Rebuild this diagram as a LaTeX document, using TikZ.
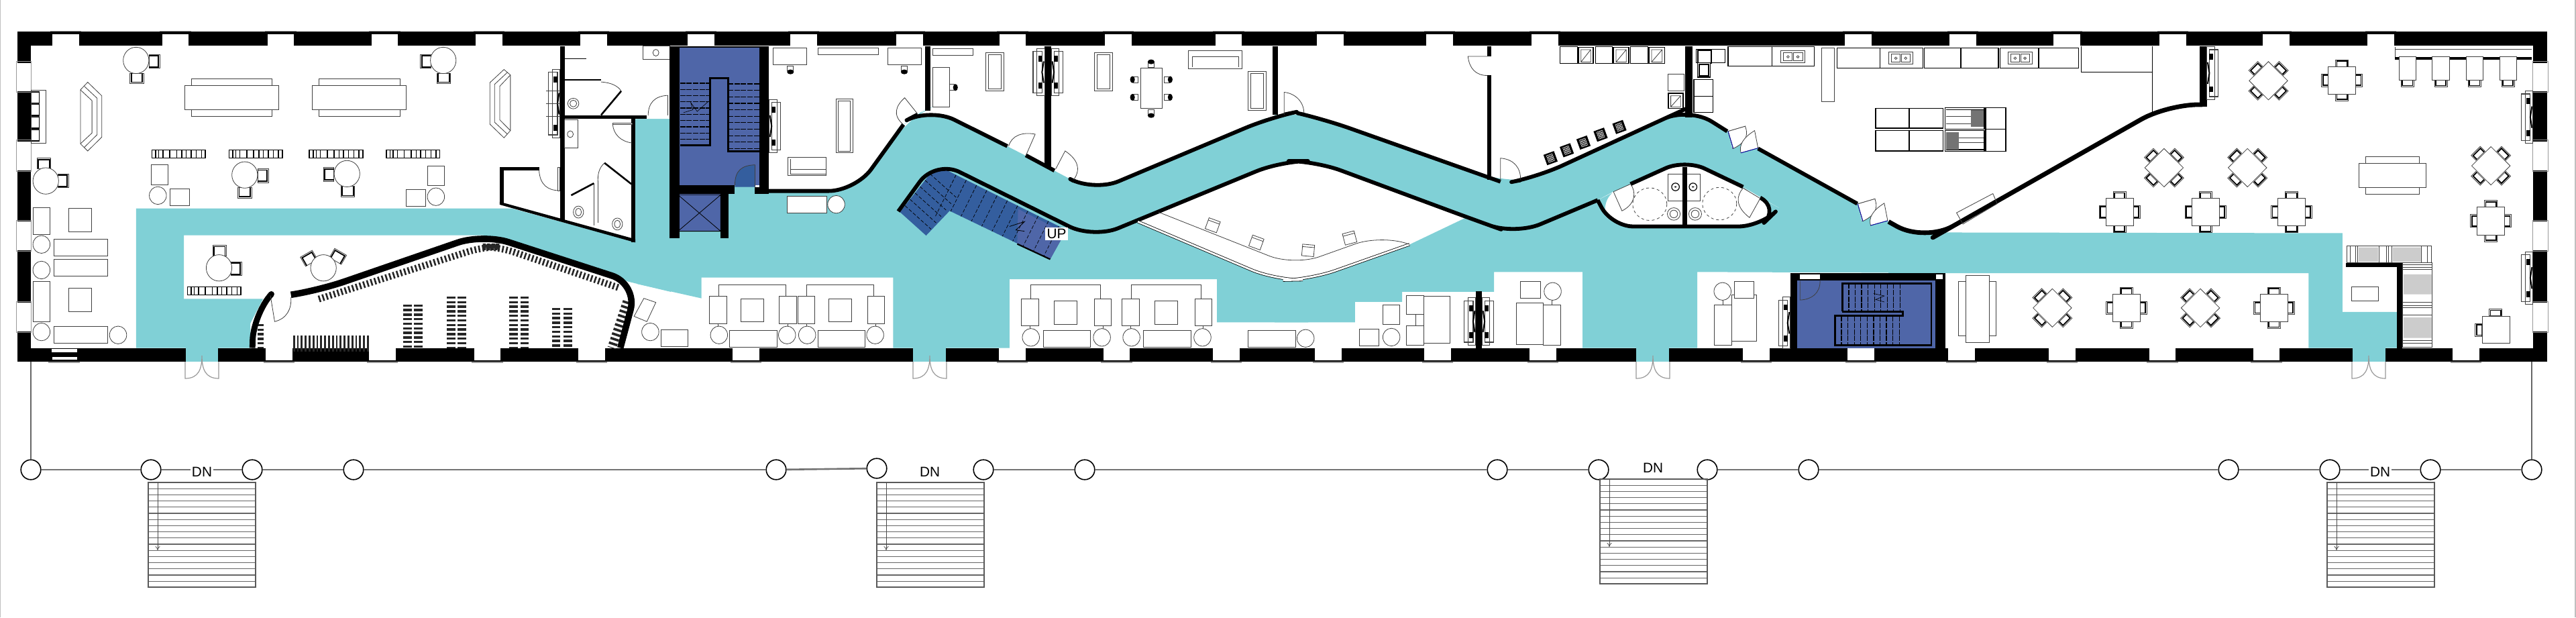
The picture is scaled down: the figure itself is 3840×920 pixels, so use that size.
\documentclass[tikz,border=0pt]{standalone}
\usepackage{fontspec}
\setmainfont{Liberation Sans}
\usetikzlibrary{arrows.meta}
\definecolor{tealf}{HTML}{80D0D6}
\definecolor{bluea}{HTML}{4F66A8}
\definecolor{blueb}{HTML}{345E9E}
\definecolor{sillg}{HTML}{999999}
\definecolor{seatg}{HTML}{CCCCCC}
\def\R{10pt}
\tikzset{
 z1/.style={x=0.159439pt,y=-0.089286pt},
 z2/.style={shift={(237.5pt,0pt)},x=0.159439pt,y=-0.089286pt},
 z3/.style={shift={(475pt,0pt)},x=0.159439pt,y=-0.089286pt},
 z4/.style={shift={(710pt,0pt)},x=0.159439pt,y=-0.089286pt},
 fur/.style={draw=black!75,line width=.2pt,fill=white},
 thinl/.style={draw=black!75,line width=.2pt},
 chk/.style={draw=black,line width=.45pt},
 wl/.style={draw=black,line width=1.45pt,line join=round},
 wlb/.style={draw=black,line width=2.4pt,line join=round},
 leaf/.style={draw=black,line width=.5pt},
 tread/.style={draw=black,line width=.3pt,dash pattern=on 2pt off .4pt},
 porch/.style={draw=black!55,line width=.65pt},
 col/.style={circle,draw=black,line width=.4pt,fill=white,minimum size=7.4pt,inner sep=0pt},
 lab/.style={font=\fontsize{5.2pt}{6pt}\selectfont,text=black,inner sep=.6pt,fill=white},
}
% chair: x y rot halfwidth halfdepth
\newcommand\chr[5]{\begin{scope}[shift={(#1,#2)},rotate=#3]
 \draw[fur] (-#4,-#5) rectangle (#4,#5);
 \draw[chk] (-#4+3,#5) -- (-#4+3,-#5+6) -- (#4-3,-#5+6) -- (#4-3,#5);
\end{scope}}
\newcommand\cha[3]{\chr{#1}{#2}{#3}{15}{14}}
\newcommand\chb[3]{\chr{#1}{#2}{#3}{16}{22}}
\newcommand\rtb[2]{\draw[fur] (#1,#2) ellipse [x radius=30,y radius=55];}
\newcommand\elp[2]{\draw[fur] (#1,#2) ellipse [x radius=20,y radius=37];}
\newcommand\rc[4]{\draw[fur] (#1,#2) rectangle (#3,#4);}
\newcommand\dtb[2]{\cha{#1-30}{#2-52}{45}\cha{#1+30}{#2-52}{-45}\cha{#1-30}{#2+52}{135}\cha{#1+30}{#2+52}{-135}
 \draw[fur] (#1-45,#2)--(#1,#2-80)--(#1+45,#2)--(#1,#2+80)--cycle;}
\newcommand\qtb[2]{\cha{#1}{#2-72}{0}\cha{#1}{#2+72}{180}\cha{#1-40}{#2}{90}\cha{#1+40}{#2}{-90}
 \draw[fur] (#1-32,#2-58) rectangle (#1+32,#2+58);}
\newcommand\rack[2]{\draw[fill=white,draw=black,line width=.35pt] (#1,#2) rectangle (#1+125,#2+34);
 \foreach \k in {9,16,26,42,58,70,80,92,104,116}{\draw[black,line width=.35pt] (#1+\k,#2) -- (#1+\k,#2+34);}}
\newcommand\tvu[4]{\begin{scope}[shift={(#1,0)},xscale=#4]
 \draw[fur] (0,#2) rectangle (18,#3);
 \draw[thinl,line width=.3pt] (6,#2+12) rectangle (27,#3-12);
 \fill[black] (6,#2+30) rectangle (15,#2+55);
 \fill[black] (6,#3-55) rectangle (15,#3-30);
 \draw[black,line width=.5pt] (2,{(#2+#3)/2-45}) -- (6,{(#2+#3)/2}) -- (2,{(#2+#3)/2+45});
\end{scope}}
\newcommand\lng[3]{% x, rect top, right shift
 \draw[thinl] (#1+21,#2) -- (#1+21,1188) -- (#1+178+#3,1188) -- (#1+178+#3,#2);
 \draw[thinl] (#1+20,#2+113) -- (#1+20,1380) (#1+183+#3,#2+113) -- (#1+183+#3,1380);
 \rc{#1}{#2}{#1+40}{#2+113}\rc{#1+163+#3}{#2}{#1+203+#3}{#2+113}
 \rc{#1+73+#3/2}{#2+10}{#1+126+#3/2}{#2+106}
 \elp{#1+22}{#2+161}\elp{#1+181+#3}{#2+161}
 \rc{#1+47+#3/2}{1380}{#1+157+#3/2}{1450}}
\newcommand\ofc[3]{\begin{scope}[shift={(#1,#2)},rotate=#3]
 \draw[fur] (-7,-14) rectangle (7,6);
 \fill[black] (0,10) ellipse [x radius=8,y radius=10];
\end{scope}}
\newcommand\snk[2]{\draw[fur,line width=.3pt] (#1,#2) rectangle (#1+57,#2+50);
 \draw[thinl] (#1+6,#2+8) rectangle (#1+27,#2+42) (#1+30,#2+8) rectangle (#1+51,#2+42);
 \draw[thinl] (#1+17,#2+25) ellipse [x radius=3,y radius=5] (#1+40,#2+25) ellipse [x radius=3,y radius=5];}
\newcommand\cel[4]{\draw[fur,draw=black,line width=.3pt] (#1,#2) rectangle (#3,#4);}
\newcommand\apl[4]{\draw[fill=white,draw=black,line width=.4pt] (#1,#2) rectangle (#3,#4);
 \draw[thinl] (#1+6,#2+10) rectangle (#3-6,#4-6) (#1+6,#4-6) -- (#3-6,#2+10);}
\newcommand\bsq[2]{\begin{scope}[shift={(#1,#2)},rotate=20]
 \fill[black] (-13,-23) rectangle (13,23);
 \draw[white,line width=.12pt] (-7,-15) rectangle (7,15) (0,-15) -- (0,15) (-7,0) -- (7,0) (-3.5,-15) -- (-3.5,15) (3.5,-15) -- (3.5,15) (-7,-7) -- (7,-7) (-7,7) -- (7,7);
\end{scope}}
\newcommand\dbd[2]{\draw[fur] (#1,#2+3) -- (#1+40,#2-18) -- (#1+10,#2+75)  (#1,#2+3) -- (#1+12,#2+75);
 \draw[thinl,fill=white] (#1,#2+3) -- (#1+40,#2-18) .. controls (#1+50,#2+30) and (#1+35,#2+55) .. (#1+12,#2+75) -- cycle;
 \draw[thinl,fill=white] (#1+70,#2+73) -- (#1+62,#2) .. controls (#1+35,#2+30) and (#1+25,#2+60) .. (#1+30,#2+93) -- cycle;
 \draw[blue!70!black,line width=.2pt] (#1,#2+3) -- (#1+12,#2+75) (#1+30,#2+93) -- (#1+70,#2+73);}
\newcommand\pst[2]{
 \foreach \k in {1,...,16}{\draw[black!60,line width=.3pt] (#1,#2+\k*9.2) -- (#1+160,#2+\k*9.2);}
 \draw[black!65,line width=.4pt] (#1,#2) rectangle (#1+160,#2+156);
 \draw[black!70,line width=.2pt,-{To[length=1.5pt,width=1.8pt]}] (#1+14,#2) -- (#1+14,#2+101);}
\newcommand\pdr[1]{\draw[sillg,line width=.3pt] (#1-25,539) -- (#1-25,564) .. controls (#1-5,564) and (#1,550) .. (#1,530) .. controls (#1,550) and (#1+5,564) .. (#1+25,564) -- (#1+25,539);}
\begin{document}
\begin{tikzpicture}[x=.25pt,y=-.25pt]
\useasboundingbox (0,0) rectangle (3840,920);
\fill[white] (0,0) rectangle (3840,920);
\draw[black!25,line width=.3pt] (0.5,0) -- (0.5,920) (3839,0) -- (3839,920);

%%% TEAL FLOOR
\begin{scope}[z1]
\fill[tealf] (318,870) -- (1197,870) -- (1485,1010) -- (1485,497) -- (1568,497) -- (1568,1218) -- (1468,1175) -- (1150,990) -- (1130,982) -- (430,982) -- (430,1247) -- (615,1247) -- (585,1350) -- (585,1452) -- (510,1452) -- (510,1507) -- (434,1507) -- (434,1452) -- (318,1452) -- cycle;
\end{scope}
\begin{scope}[z2]
\fill[tealf] (0,497) -- (85,497) -- (85,965) -- (213,965) -- (213,775) -- (275,775) -- (275,797) [rounded corners=\R] -- (510,797) -- (622,520) -- (655,478) -- (685,450) -- (865,610) -- (975,712) -- (1067,800) -- (1480,490) -- (1512,478) [sharp corners] -- (1568,480) -- (1568,1345) -- (1355,1345) -- (1355,1165) -- (870,1165) -- (870,1452) -- (722,1452) -- (722,1507) -- (645,1507) -- (645,1452) -- (598,1452) -- (598,1158) -- (150,1158) -- (150,1245) -- (0,1185) -- cycle;
\end{scope}
\begin{scope}[z3]
\fill[tealf] (0,480) -- (68,478) [rounded corners=\R] -- (115,497) -- (528,758) -- (575,752) -- (615,738) -- (905,500) -- (969,448) -- (1058,548) [sharp corners] -- (1435,925) -- (1435,1138) -- (988,1135) -- (988,1452) -- (921,1452) -- (921,1507) -- (845,1507) -- (845,1452) -- (720,1452) -- (720,1135) -- (513,1135) -- (513,1218) -- (298,1218) -- (298,1260) -- (188,1260) -- (188,1345) -- (0,1345) -- cycle;
\end{scope}
\begin{scope}[z4]
\fill[tealf] (-39,925) .. controls (0,965) and (20,970) .. (46,970) -- (1022,973) -- (1022,1302) -- (1150,1302) -- (1150,1452) -- (1122,1452) -- (1122,1507) -- (1046,1507) -- (1046,1452) -- (943,1452) -- (943,1140) -- (-39,1140) -- cycle;
\end{scope}
% white reception and WC island
\begin{scope}[z2]
\fill[white] (1170,918) [rounded corners=\R] -- (1505,672) -- (1585,672) [sharp corners] -- (1940,905) -- (1805,1020) [rounded corners=\R] -- (1572,1167) -- (1493,1170) [sharp corners] -- (1170,925) -- (1170,918);
\end{scope}
\begin{scope}[z3]
\fill[white] [rounded corners=8pt] (755,835) -- (788,945) -- (1135,945) -- (1180,868) -- (1135,825) -- (1095,780) -- (960,665) -- (832,768) -- (790,802) -- cycle;
\end{scope}

%%% BLUE
\begin{scope}[z2]
\fill[bluea] (98,195) rectangle (285,773);
\fill[blueb] (228,780) -- (228,773) .. controls (228,710) and (245,690) .. (275,688) -- (275,780) -- cycle;
\end{scope}
\begin{scope}[z3]
\fill[bluea] (1222,1170) rectangle (1545,1452);
\end{scope}

%%% OUTER WALLS (real pixels)
\fill[black] (25.5,47.5) rectangle (3797,68.5);
\fill[black] (25.5,518.5) rectangle (3797,539);
\fill[black] (25.5,47.5) rectangle (46,539);
\fill[black] (3775.6,47.5) rectangle (3797,539);
\foreach \wx in {78.4,241.7,398.6,553.6,709,865,1025,1178,1336,1489.5,1647,1811.6,1963,2126,2283,2750,2906,3061,3219,3373,3529}{
 \fill[white] (\wx,51) rectangle (\wx+39.5,68.5);
 \fill[sillg] (\wx-3.5,46) rectangle (\wx+43,47.5);}
\foreach \wx in {396,550,706.6,862,1092,1489,1644.5,1808,1960,2123,2280,2598,2754,2904,3054,3203.5,3358.5,3656}{
 \fill[white] (\wx,518.5) rectangle (\wx+39.5,537);
 \fill[sillg] (\wx-3.5,539) rectangle (\wx+43,541);}
\foreach \wy in {93.6,211,330,451.3}{
 \fill[white] (25.5,\wy) rectangle (46,\wy+42.5);
 \draw[sillg,line width=.25pt] (24.5,\wy-2) rectangle (46,\wy+44);
 \fill[white] (3775.6,\wy) rectangle (3797,\wy+42.5);
 \draw[sillg,line width=.25pt] (3775.6,\wy-2) rectangle (3798,\wy+44);}
\fill[white] (76.5,519.5) rectangle (115,525);
\fill[white] (78,532) rectangle (115,536);
\fill[sillg] (72,539) rectangle (119,541);
% teal door gaps
\fill[tealf] (277,518) rectangle (325,538.5);
\fill[tealf] (1361,518) rectangle (1410,538.5);
\fill[tealf] (2439,518) rectangle (2487.5,538.5);
\fill[tealf] (3507,518) rectangle (3555.5,538.5);

%%% ZOOM 1 REGION
\begin{scope}[z1]
% walls
\fill[black] (1309,192) rectangle (1320,925);
\fill[black] (1320,482) rectangle (1512,497);
\fill[black] (1475,497) rectangle (1485,1012);
\fill[black] (1168,696) rectangle (1260,712);
\fill[black] (1168,696) rectangle (1178,848);
\fill[black] (1168,842) -- (1485,998) -- (1485,1012) -- (1168,854) -- cycle;
\fill[black] (1320,330) rectangle (1405,336);
\draw[black,line width=.3pt] (1320,245) -- (1370,245);
% library shelves
\foreach \xa/\ya in {952/1270,978/1270,1055/1237,1080/1237,1200/1237,1226/1237,1300/1285,1327/1285}{
 \draw[black!85,line width=3.2pt,dash pattern=on .85pt off .85pt] (\xa,\ya) -- (\xa,1452);}
\draw[black!85,line width=2.3pt,dash pattern=on .85pt off .85pt] (609,1352) -- (609,1452);
\draw[black!85,line width=5.9pt,dash pattern=on .7pt off .75pt] (685,1433) -- (862,1433);
\draw[black!85,line width=2.5pt,dash pattern=on .65pt off .8pt,rounded corners=6pt] (745,1248) -- (1130,1030) -- (1165,1030) -- (1445,1200);
\draw[black!85,line width=3.3pt,dash pattern=on .9pt off .9pt] (1466,1258) -- (1430,1452);
\draw[wlb,rounded corners=\R] (680,1230) -- (745,1212) -- (1129,976) -- (1490,1185) -- (1450,1452);
\draw[wlb,line width=2.2pt,rounded corners=\R] (632,1232) -- (592,1310) -- (590,1452);
% doors
\draw[thinl] (1260,712) .. controls (1262,770) and (1280,795) .. (1307,795);
\draw[fur] (1303,697) rectangle (1309,795);
\draw[thinl] (1405,342) .. controls (1430,345) and (1445,360) .. (1452,380);
\draw[leaf,line width=.65pt] (1405,480) -- (1452,380);
\draw[thinl] (1515,482) .. controls (1515,430) and (1530,400) .. (1562,398);
\draw[thinl] (1560,398) -- (1560,482);
\draw[thinl] (1432,518) .. controls (1434,560) and (1450,590) .. (1478,597);
\draw[fur] (1432,514) rectangle (1478,520);
\draw[thinl] (1398,765) .. controls (1396,730) and (1400,700) .. (1413,680);
\draw[leaf,line width=.65pt] (1413,680) -- (1475,767) -- (1482,767);
\draw[thinl] (1398,765) -- (1398,930) (1388,765) -- (1388,940);
\draw[leaf,line width=.65pt] (1335,815) -- (1388,765);
\draw[fur,fill=none] (632,1233) -- (642,1342) .. controls (670,1330) and (682,1290) .. (680,1240);
% sanitary
\rc{1503}{192}{1565}{248}\draw[thinl] (1533,220) ellipse [x radius=7,y radius=14];
\rc{1320}{500}{1350}{617}\draw[thinl] (1333,560) ellipse [x radius=7,y radius=14];
\draw[thinl] (1340,432) ellipse [x radius=13,y radius=22] (1340,432) ellipse [x radius=8,y radius=14];
\draw[thinl] (1352,885) ellipse [x radius=12,y radius=25] (1352,885) ellipse [x radius=7,y radius=16];
\draw[thinl] (1443,935) ellipse [x radius=12,y radius=25] (1443,935) ellipse [x radius=7,y radius=16];
% round tables
\chb{361}{256}{-90}\chb{320}{327}{180}\rtb{318}{252}
\chb{995}{256}{90}\chb{1037}{327}{180}\rtb{1036}{252}
\chb{103}{682}{0}\chb{148}{755}{-90}\rtb{107}{755}
\chb{615}{733}{-90}\chb{572}{805}{180}\rtb{572}{730}
\chb{768}{728}{90}\chb{813}{800}{180}\rtb{811}{725}
\chb{513}{1045}{0}\chb{552}{1122}{-90}\rtb{512}{1118}
\chb{722}{1078}{30}\chb{790}{1070}{-30}\rtb{756}{1118}
% long tables
\rc{448}{330}{636}{358}\rc{448}{457}{636}{485}\rc{432}{358}{652}{457}
\rc{746}{330}{935}{358}\rc{746}{457}{935}{485}\rc{730}{358}{950}{457}
% hex benches
\draw[fur] (188,375) -- (205,343) -- (238,400) -- (238,572) -- (205,630) -- (188,600) -- cycle;
\draw[thinl] (188,375) -- (215,420) -- (215,555) -- (188,600);
\draw[thinl] (197,360) -- (227,410) -- (227,562) -- (197,615);
\draw[fur] (1193,313) -- (1178,290) -- (1145,345) -- (1145,518) -- (1178,575) -- (1193,545) -- cycle;
\draw[thinl] (1193,313) -- (1168,360) -- (1168,500) -- (1193,545);
\draw[thinl] (1186,302) -- (1156,352) -- (1156,510) -- (1186,560);
% racks
\rack{355}{626}\rack{535}{626}\rack{723}{626}\rack{903}{626}\rack{438}{1197}
% wall units
\rc{73}{375}{108}{597}
\fill[black] (73,381) rectangle (92,590);
\foreach \k in {386,436,490,542}{\fill[white] (74,\k) rectangle (91,\k+42);}
\draw[thinl] (73,432) -- (92,432) (73,486) -- (92,486) (73,538) -- (92,538);
\tvu{1309}{290}{575}{-1}
\foreach \k in {378,432,486}{\draw[thinl] (1277,\k) -- (1309,\k);}
% left lounge
\rc{78}{865}{117}{977}\rc{161}{870}{214}{967}\rc{126}{997}{252}{1067}\rc{126}{1082}{252}{1152}
\elp{97}{1020}\elp{97}{1127}\rc{78}{1173}{117}{1342}\rc{160}{1203}{214}{1300}\elp{97}{1385}
\rc{126}{1362}{252}{1432}\elp{276}{1398}
% lower desks
\rc{354}{687}{393}{770}\elp{369}{816}\rc{398}{787}{443}{857}
\rc{1000}{692}{1039}{775}\elp{1019}{821}\rc{950}{792}{995}{862}
\draw[fur] (1505,1245) -- (1533,1262) -- (1512,1342) -- (1482,1320) -- cycle;
\elp{1520}{1385}\rc{1545}{1377}{1608}{1447}
\end{scope}

%%% ZOOM 2 REGION
\begin{scope}[z2]
% stair box walls
\fill[black] (75,192) rectangle (98,995);
\fill[black] (285,192) rectangle (308,810);
\fill[black] (98,773) rectangle (228,810);
\fill[black] (275,780) rectangle (308,810);
\fill[black] (195,810) rectangle (213,995);
\fill[black] (98,192) rectangle (285,200);
\fill[white] (118,142) rectangle (180,190);
\fill[bluea] (98,810) rectangle (195,965);
\draw[black,line width=.2pt] (95,813) rectangle (195,965) (95,813) -- (195,965) (95,965) -- (195,813);
\draw[thinl] (228,773) .. controls (228,710) and (245,690) .. (275,688) -- (275,780);
% stairs
\foreach \k in {347,373,...,605}{\draw[tread] (100,\k) -- (170,\k);}
\foreach \k in {350,377,...,632}{\draw[tread] (212,\k) -- (285,\k);}
\draw[black,line width=.75pt] (100,605) -- (170,605) -- (170,325) -- (212,325) -- (212,632) -- (285,632);
\draw[black,line width=.15pt] (108,470) -- (130,458) -- (125,428) -- (140,465) -- (165,425);
% walls
\fill[black] (672,192) rectangle (685,462);
\fill[black] (952,192) rectangle (968,700);
\fill[black] (1485,192) rectangle (1497,480);
\draw[wl,rounded corners=\R] (275,797) -- (510,797) -- (622,520);
\draw[wl,rounded corners=\R] (655,478) -- (685,450) -- (865,610);
\draw[wl] (908,648) -- (975,712);
\draw[wl,rounded corners=\R] (1020,755) -- (1067,800) -- (1480,490) -- (1512,478);
% UP stair
\fill[blueb] (614,885) -- (692,708) -- (725,712) -- (1003,960) -- (965,1082) -- (730,880) -- (675,983) -- cycle;
\fill[bluea] (890,872) -- (985,958) -- (1003,960) -- (965,1082) -- (888,1018) -- cycle;
\begin{scope}
\clip (614,885) -- (692,708) -- (725,712) -- (1003,960) -- (965,1082) -- (730,880) -- (675,983) -- cycle;
\foreach \k in {0,...,10}{\draw[black,line width=.18pt,dash pattern=on 1.3pt off .7pt] (745+\k*24,730+\k*21.4) -- (697+\k*24,902+\k*21.4);}
\foreach \k in {.15,.3,.45,.6,.75,.9}{\draw[black,line width=.18pt,dash pattern=on 1.3pt off .7pt] (614+78*\k,885-177*\k) -- (675+78*\k,983-177*\k);}
\end{scope}
\draw[black,line width=.2pt] (870,945) -- (905,925) -- (885,960) -- (905,965);
\draw[black,line width=.55pt] (888,1018) -- (965,1082);
\draw[wl,rounded corners=\R] (610,882) -- (697,668) -- (1066,995) -- (1505,672) -- (1585,672) -- (1960,920) -- (2053,979) -- (2245,835);
\node[lab] (up) at (980,976) {UP};
% doors
\draw[fur,fill=none] (622,520) .. controls (595,480) and (605,440) .. (625,408) -- (655,475);
\draw[fur,fill=none] (868,610) .. controls (875,565) and (900,550) .. (930,560) -- (908,650);
\draw[fur,fill=none] (1020,750) .. controls (1040,700) and (1025,660) .. (1000,630) -- (978,705);
\draw[fur,fill=none] (1558,478) .. controls (1560,430) and (1540,390) .. (1512,385) -- (1512,480);
% office furniture
\rc{318}{200}{396}{270}\rc{422}{200}{563}{228}\rc{586}{200}{664}{270}
\ofc{358}{290}{0}\ofc{624}{290}{0}
\rc{464}{413}{504}{638}\draw[thinl] (470,420) rectangle (498,630);
\rc{352}{657}{441}{732}\draw[thinl] (358,664) -- (358,725) -- (441,725) (358,708) -- (441,708);
\tvu{308}{415}{638}{1}
\rc{690}{203}{785}{232}\rc{690}{282}{730}{447}\ofc{738}{365}{90}
\rc{814}{220}{856}{380}\draw[thinl] (820,228) rectangle (850,372);
\rc{1068}{220}{1110}{380}\draw[thinl] (1074,228) rectangle (1104,372);
\tvu{952}{202}{400}{-1}\tvu{968}{202}{400}{1}
\ofc{1201}{268}{180}\ofc{1201}{472}{0}\ofc{1163}{332}{-90}\ofc{1163}{406}{-90}\ofc{1240}{332}{90}\ofc{1240}{406}{90}
\rc{1177}{285}{1226}{453}
\rc{1288}{212}{1414}{288}\draw[thinl] (1297,235) -- (1405,235) (1297,235) -- (1297,280) (1405,235) -- (1405,280);
\rc{1428}{298}{1470}{460}\draw[thinl] (1434,306) rectangle (1464,452);
% seating
\lng{169}{1237}{0}\lng{375}{1237}{0}\lng{898}{1247}{7}\lng{1133}{1247}{7}
\rc{350}{820}{443}{890}\elp{465}{853}
\rc{1428}{1380}{1538}{1450}\elp{1562}{1412}
% reception counter
\draw[draw=black,line width=.2pt,double=white,double distance=.7pt,rounded corners=\R] (1170,925) -- (1493,1170) -- (1572,1167) -- (1805,1020);
\draw[thinl,rounded corners=\R] (1218,885) -- (1535,1109) -- (1738,980) -- (1805,1020);
\begin{scope}[shift={(1345,940)},rotate=-20]\draw[fur] (-14,-24) rectangle (14,24);\draw[thinl] (-14,-14) -- (14,-14);\end{scope}
\begin{scope}[shift={(1447,1012)},rotate=-20]\draw[fur] (-14,-24) rectangle (14,24);\draw[thinl] (-14,-14) -- (14,-14);\end{scope}
\begin{scope}[shift={(1568,1045)},rotate=-5]\draw[fur] (-14,-24) rectangle (14,24);\draw[thinl] (-14,-14) -- (14,-14);\end{scope}
\begin{scope}[shift={(1665,993)},rotate=15]\draw[fur] (-14,-24) rectangle (14,24);\draw[thinl] (-14,-14) -- (14,-14);\end{scope}
\end{scope}

%%% ZOOM 3 REGION
\begin{scope}[z3]
\fill[black] (497,192) rectangle (506,235);
\fill[black] (497,315) rectangle (506,750);
\fill[black] (960,192) rectangle (977,490);
\draw[wl,rounded corners=\R] (68,478) -- (115,497) -- (528,758);
\draw[wl,rounded corners=\R] (575,752) -- (615,738) -- (905,500) -- (969,448) -- (1058,548);
\draw[wl] (1130,620) -- (1362,850);
% WC
\draw[wl,rounded corners=8pt] (755,835) -- (788,945) -- (1135,945) -- (1180,868) -- (1135,825);
\draw[wl,rounded corners=8pt] (1095,780) -- (960,665) -- (832,768);
\rc{920}{727}{995}{838}
\draw[black,line width=.3pt] (937,780) ellipse [x radius=9,y radius=16] (978,780) ellipse [x radius=9,y radius=16];
\fill[black] (937,780) circle [radius=3] (978,780) circle [radius=3];
\draw[thinl,dashed,dash pattern=on 1pt off 1pt] (877,852) ellipse [x radius=40,y radius=68] (1040,850) ellipse [x radius=40,y radius=68];
\draw[thinl] (933,893) ellipse [x radius=15,y radius=26] (983,893) ellipse [x radius=15,y radius=26] (933,893) ellipse [x radius=9,y radius=16] (983,893) ellipse [x radius=9,y radius=16];
\fill[black] (953,698) rectangle (964,945);
\draw[fur,fill=none] (792,800) -- (812,880) .. controls (845,850) and (845,800) .. (832,768);
\draw[fur,fill=none] (1135,828) -- (1110,908) .. controls (1075,860) and (1080,815) .. (1095,785);
\draw[fur,fill=none] (792,800) -- (832,768) (1095,785) -- (1135,828);
\dbd{1060}{545}\dbd{1363}{848}
% doors
\draw[fur,fill=none] (497,235) -- (452,235) .. controls (455,285) and (470,315) .. (497,315);
\draw[fur,fill=none] (528,755) -- (528,660) .. controls (560,665) and (575,700) .. (575,750);
% kitchen row
\cel{667}{195}{708}{265}\apl{710}{197}{745}{265}\cel{750}{195}{790}{265}\apl{792}{197}{828}{265}\cel{832}{195}{872}{265}\apl{875}{197}{912}{265}
\rc{920}{310}{957}{380}\apl{920}{390}{955}{452}
\bsq{645}{660}\bsq{683}{627}\bsq{722}{595}\bsq{762}{562}\bsq{806}{530}
\cel{985}{205}{1053}{262}\draw[black,line width=.5pt] (990,210) rectangle (1020,262);
\cel{988}{262}{1018}{322}\draw[black,line width=.5pt] (992,270) rectangle (1014,316);
\cel{980}{332}{1025}{402}\cel{980}{402}{1025}{470}
\cel{1060}{195}{1162}{275}\cel{1162}{195}{1262}{275}\snk{1183}{212}
\rc{1278}{200}{1308}{425}
\cel{1315}{200}{1415}{285}\cel{1415}{200}{1515}{285}\snk{1435}{218}\cel{1518}{200}{1600}{285}
\cel{1405}{453}{1483}{535}\cel{1483}{453}{1560}{535}\cel{1405}{545}{1483}{630}\cel{1483}{545}{1560}{630}
% lower lounges
\draw[thinl] (330,1312) -- (330,1358) (648,1253) -- (648,1272) (1048,1253) -- (1048,1272);
\rc{348}{1237}{410}{1433}\rc{308}{1232}{348}{1312}\rc{308}{1358}{348}{1440}
\rc{253}{1273}{293}{1355}\elp{273}{1407}\rc{198}{1372}{244}{1442}
\rc{565}{1265}{628}{1437}\rc{575}{1175}{622}{1245}\elp{650}{1216}\rc{628}{1272}{668}{1440}
\rc{1068}{1230}{1127}{1425}\rc{1075}{1175}{1120}{1245}\elp{1047}{1216}\rc{1028}{1272}{1068}{1440}
\fill[black] (470,1215) rectangle (485,1452);
\tvu{470}{1243}{1440}{-1}\tvu{485}{1243}{1440}{1}
\tvu{1205}{1240}{1455}{-1}
% lower stair
\fill[black] (1205,1140) rectangle (1568,1170);
\fill[black] (1205,1140) rectangle (1222,1452);
\fill[black] (1545,1170) rectangle (1568,1452);
\fill[white] (1228,1145) rectangle (1275,1165);
\fill[white] (1546,1145) rectangle (1561,1165);
\foreach \k in {1327,1342,...,1472}{\draw[tread] (\k,1183) -- (\k,1298);}
\foreach \k in {1310,1325,...,1468}{\draw[tread] (\k,1320) -- (\k,1440);}
\draw[black,line width=.7pt] (1327,1298) -- (1327,1183) -- (1535,1183) -- (1535,1440) -- (1310,1440) -- (1310,1318) -- (1468,1318) -- (1468,1300) -- (1327,1300);
\draw[black,line width=.15pt] (1400,1225) -- (1425,1235) -- (1405,1250) -- (1425,1260);
\draw[thinl] (1228,1172) -- (1228,1252) .. controls (1255,1250) and (1275,1225) .. (1275,1172);
\end{scope}

%%% ZOOM 4 REGION
\begin{scope}[z4]
\fill[black] (688,192) rectangle (705,445);
\draw[wl,line width=1.7pt,rounded corners=12pt] (-39,925) -- (46,1010) -- (130,925) -- (617,432) -- (695,437);
\draw[black,line width=.25pt] (412,192) -- (412,300) -- (578,300) (578,192) -- (578,470);
\draw[fur,fill=none] (120,888) -- (205,808) -- (215,850) -- (135,935) -- cycle;
% kitchen
\cel{45}{200}{130}{285}\cel{130}{200}{218}{285}\cel{222}{200}{312}{285}\snk{240}{218}\cel{312}{200}{405}{285}
\cel{10}{453}{88}{535}\cel{10}{545}{88}{630}
\cel{93}{450}{185}{540}\cel{93}{545}{185}{632}
\draw[black,line width=.4pt] (96,458) -- (183,458) (96,625) -- (183,625);
\draw[thinl] (96,485) -- (153,485) (96,515) -- (153,515) (125,575) -- (183,575) (125,595) -- (183,595);
\fill[black!55] (153,458) rectangle (183,530);\fill[black!55] (95,552) rectangle (125,625);
\cel{188}{450}{235}{540}\cel{188}{540}{235}{632}
\tvu{705}{195}{415}{1}
\tvu{1467}{380}{598}{-1}\tvu{1467}{1050}{1270}{-1}
% dining
\dtb{849}{337}\qtb{1021}{335}
\dtb{605}{700}\dtb{800}{700}
\qtb{501}{885}\qtb{702}{885}\qtb{903}{885}
\rc{1076}{654}{1202}{682}\rc{1076}{782}{1202}{810}\rc{1060}{682}{1217}{782}
\dtb{1369}{692}\qtb{1369}{922}
\rc{125}{1175}{212}{1402}\rc{142}{1148}{197}{1428}
\dtb{344}{1285}\qtb{517}{1285}\dtb{690}{1285}\qtb{862}{1285}
% bar
\draw[thinl] (1145,195) -- (1145,248) (1145,205) -- (1465,205);
\fill[black] (1145,238) rectangle (1465,248);
\foreach \k in {1154,1232,1311,1389}{\cha{\k+20}{349}{180}\rc{\k}{237}{\k+40}{333}}
% right table
\cha{1380}{1303}{0}\cha{1340}{1377}{90}\rc{1349}{1320}{1413}{1433}
% booth
\rc{1033}{1027}{1230}{1097}
\fill[seatg] (1060,1032) rectangle (1105,1092) (1140,1032) rectangle (1205,1092);
\foreach \k in {1040,1053,1058,1107,1125,1130,1138,1207,1220}{\draw[thinl] (\k,1027) -- (\k,1097);}
\rc{1162}{1097}{1232}{1450}
\fill[seatg] (1165,1145) rectangle (1230,1228) (1165,1325) rectangle (1230,1410);
\foreach \k in {1105,1115,1125,1260,1275,1285,1315,1420,1432}{\draw[thinl] (1162,\k) -- (1232,\k);}
\fill[black] (1030,1097) rectangle (1160,1115);
\fill[black] (1150,1097) rectangle (1162,1452);
\rc{1043}{1197}{1106}{1255}
\end{scope}

%%% PORCH
\foreach \n/\cx/\cy in {c1/46/700,c2/225/700,c3/376/700,c4/527/700,c5/1157/700,c6/1307/698,c7/1466/700,c8/1617/700,c9/2232/700,c10/2383/700,c11/2545/700,c12/2696/700,c13/3322/700,c14/3473/700,c15/3623/700,c16/3774/700}{
 \node[col] (\n) at (\cx,\cy) {};}
\coordinate (lt) at (46,539);
\coordinate (rt) at (3774,539);
\draw[black!60,line width=.3pt] (lt) -- (c1);
\draw[black!60,line width=.3pt] (rt) -- (c16);
\draw[porch] (c1) -- (c2);
\draw[porch] (c2) -- (c3);
\draw[porch] (c3) -- (c4);
\draw[porch] (c4) -- (c5);
\draw[porch] (c5) -- (c6);
\draw[porch] (c7) -- (c8);
\draw[porch] (c8) -- (c9);
\draw[porch] (c9) -- (c10);
\draw[porch] (c11) -- (c12);
\draw[porch] (c12) -- (c13);
\draw[porch] (c13) -- (c14);
\draw[porch] (c14) -- (c15);
\draw[porch] (c15) -- (c16);
\node[lab] (dn1) at (301,703) {DN};
\node[lab] (dn2) at (1386,703) {DN};
\node[lab] (dn3) at (2464,697) {DN};
\node[lab] (dn4) at (3548,703) {DN};
\pst{221}{719}\pst{1307}{719}\pst{2385}{714}\pst{3469}{719}
\pdr{301}\pdr{1386}\pdr{2464}\pdr{3531}
\end{tikzpicture}
\end{document}
